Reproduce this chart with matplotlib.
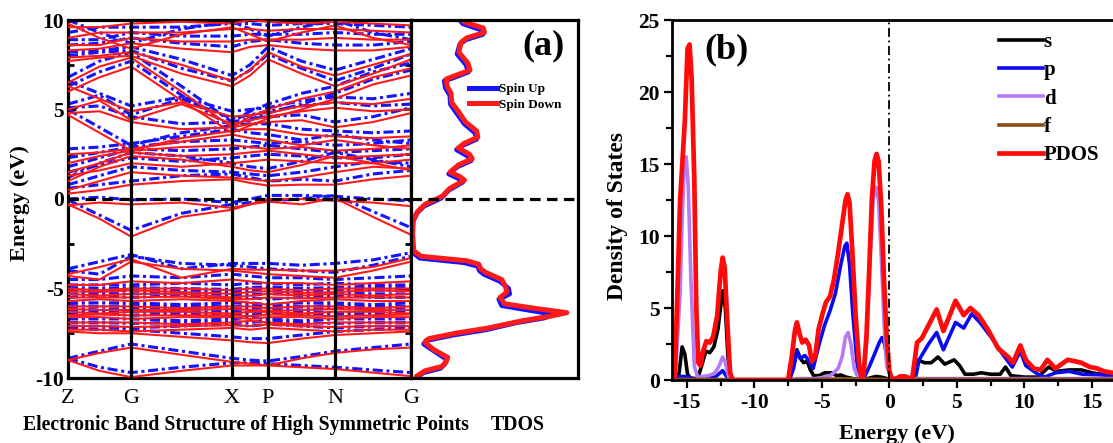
import numpy as np
import matplotlib
matplotlib.use("Agg")
import matplotlib.pyplot as plt
from matplotlib.ticker import MultipleLocator

plt.rcParams['font.family'] = ['Liberation Serif', 'DejaVu Serif']
plt.rcParams['font.weight'] = 'bold'
plt.rcParams['axes.unicode_minus'] = False

# ---------------- data: band structure ----------------
k_labels = ['Z', 'G', 'X', 'P', 'N', 'G']
k_nodes = [0.0, 1.0, 2.603, 3.175, 4.238, 5.444]

# values at Z, mid, G, mid, X, mid, P, mid, N, mid, G
bands_down = [
    [-0.3, -1.1, -2.1, -1.0, -0.6, -0.3, -0.15, -0.3, 0.05, -1.0, -2.0],
    [-0.35, -0.2, -0.3, -0.2, -0.5, -0.3, 0.0, 0.0, -0.1, -0.2, -0.4],
    [0.3, 0.5, 0.8, 1.0, 1.1, 0.9, 0.75, 0.8, 0.8, 1.1, 1.3],
    [0.5, 1.0, 1.5, 1.3, 1.2, 1.1, 1.0, 1.2, 1.5, 1.8, 1.7],
    [1.0, 1.8, 2.4, 2.2, 1.8, 1.6, 1.5, 1.9, 2.4, 2.0, 1.6],
    [1.3, 1.6, 2.0, 1.8, 2.0, 2.1, 2.2, 2.1, 2.0, 2.0, 2.2],
    [1.5, 2.0, 2.6, 2.4, 2.5, 2.6, 2.7, 2.5, 2.3, 2.4, 2.5],
    [2.0, 2.4, 2.7, 2.9, 3.0, 2.9, 2.8, 2.9, 2.7, 2.8, 3.0],
    [2.5, 2.6, 2.8, 3.2, 3.6, 3.4, 3.3, 3.0, 3.3, 3.0, 2.8],
    [4.7, 3.7, 2.7, 3.4, 3.8, 3.9, 3.9, 3.6, 3.5, 3.4, 3.5],
    [4.8, 4.9, 4.3, 3.9, 4.0, 4.2, 4.3, 4.4, 4.0, 4.3, 4.8],
    [5.0, 5.5, 4.4, 5.3, 4.2, 4.4, 4.6, 4.9, 5.1, 4.9, 5.0],
    [6.3, 5.6, 4.9, 5.4, 4.6, 4.7, 4.8, 5.2, 5.4, 5.3, 5.6],
    [6.0, 6.8, 7.4, 5.5, 3.7, 4.1, 4.5, 5.0, 5.6, 6.4, 6.9],
    [6.5, 7.4, 7.9, 6.0, 4.0, 4.6, 5.0, 5.6, 6.0, 6.8, 7.3],
    [7.7, 7.9, 8.0, 7.0, 6.3, 6.9, 7.8, 7.0, 6.3, 7.0, 7.8],
    [7.9, 8.0, 8.2, 7.5, 6.6, 7.2, 8.2, 7.4, 6.9, 7.5, 8.1],
    [8.3, 8.4, 8.7, 8.4, 8.2, 8.5, 8.6, 8.4, 8.3, 8.3, 8.5],
    [8.6, 8.6, 9.0, 8.8, 8.8, 8.9, 8.9, 8.9, 9.0, 8.9, 8.9],
    [9.8, 9.0, 8.4, 9.2, 9.6, 9.2, 8.8, 9.3, 9.7, 9.0, 8.6],
    [9.0, 9.3, 9.3, 9.3, 9.5, 9.5, 9.4, 9.5, 9.5, 9.4, 9.3],
    [9.6, 9.6, 9.8, 9.9, 9.8, 10.0, 9.9, 9.8, 9.9, 9.8, 9.7],
    [-4.2, -3.8, -3.35, -4.4, -3.9, -3.95, -3.95, -4.0, -4.0, -3.8, -3.3],
    [-4.3, -4.5, -3.5, -3.9, -4.0, -4.1, -4.2, -4.3, -4.4, -4.0, -3.5],
    [-4.8, -4.8, -4.6, -4.7, -4.5, -4.6, -4.7, -4.7, -4.8, -4.7, -4.6],
    [-5.0, -5.1, -5.0, -5.0, -5.1, -5.0, -5.0, -5.1, -5.0, -5.0, -5.0],
    [-5.15, -5.2, -5.1, -5.2, -5.3, -5.2, -5.15, -5.25, -5.2, -5.1, -5.15],
    [-5.3, -5.4, -5.3, -5.3, -5.5, -5.4, -5.3, -5.4, -5.3, -5.4, -5.3],
    [-5.5, -5.5, -5.5, -5.45, -5.6, -5.6, -5.5, -5.55, -5.5, -5.5, -5.5],
    [-5.7, -5.6, -5.7, -5.6, -5.7, -5.8, -5.9, -5.7, -5.6, -5.7, -5.7],
    [-6.0, -6.0, -6.0, -6.1, -6.0, -6.0, -6.1, -6.0, -6.0, -6.1, -6.0],
    [-6.15, -6.2, -6.2, -6.2, -6.15, -6.2, -6.25, -6.2, -6.15, -6.2, -6.2],
    [-6.3, -6.4, -6.3, -6.3, -6.4, -6.3, -6.3, -6.4, -6.3, -6.3, -6.4],
    [-6.5, -6.45, -6.5, -6.5, -6.5, -6.55, -6.45, -6.5, -6.55, -6.5, -6.45],
    [-6.6, -6.6, -6.7, -6.6, -6.6, -6.7, -6.6, -6.6, -6.7, -6.6, -6.6],
    [-6.9, -6.9, -6.9, -7.0, -6.9, -6.8, -6.9, -7.0, -6.9, -6.9, -6.9],
    [-7.1, -7.1, -7.15, -7.1, -7.05, -7.1, -7.0, -7.1, -7.15, -7.1, -7.1],
    [-7.3, -7.3, -7.4, -7.3, -7.2, -7.3, -7.2, -7.3, -7.4, -7.3, -7.3],
    [-7.4, -7.5, -7.5, -7.7, -7.9, -8.0, -8.05, -7.8, -7.6, -7.5, -7.4],
    [-9.0, -8.6, -8.3, -8.7, -9.1, -9.2, -9.3, -8.9, -8.6, -8.4, -8.3],
    [-9.0, -9.6, -9.95, -9.6, -9.3, -9.3, -9.3, -9.4, -9.5, -9.7, -9.9],
]

bands_up = [
    [-0.05, -0.9, -1.75, -0.8, -0.3, -0.2, -0.1, 0.0, 0.2, -0.7, -1.6],
    [0.0, 0.1, -0.05, 0.0, -0.2, 0.0, 0.2, 0.2, 0.15, 0.0, -0.1],
    [0.6, 0.8, 1.0, 1.3, 1.4, 1.2, 1.0, 1.1, 1.0, 1.4, 1.6],
    [0.8, 1.3, 1.8, 1.6, 1.5, 1.4, 1.3, 1.5, 1.8, 2.1, 2.0],
    [1.2, 2.0, 2.6, 2.4, 2.0, 1.8, 1.7, 2.1, 2.6, 2.2, 1.8],
    [1.5, 1.9, 2.3, 2.1, 2.3, 2.4, 2.5, 2.4, 2.3, 2.3, 2.5],
    [1.8, 2.3, 2.8, 2.7, 2.8, 2.9, 3.0, 2.8, 2.6, 2.7, 2.8],
    [2.3, 2.6, 2.9, 3.2, 3.3, 3.2, 3.1, 3.2, 3.0, 3.1, 3.3],
    [2.8, 2.9, 3.1, 3.5, 3.9, 3.7, 3.6, 3.3, 3.6, 3.3, 3.1],
    [5.0, 4.0, 3.0, 3.7, 4.1, 4.2, 4.2, 3.9, 3.8, 3.7, 3.8],
    [5.1, 5.2, 4.6, 4.2, 4.3, 4.5, 4.6, 4.7, 4.3, 4.6, 5.1],
    [5.3, 5.8, 4.7, 5.6, 4.5, 4.7, 4.9, 5.2, 5.4, 5.2, 5.3],
    [6.6, 5.9, 5.2, 5.7, 4.9, 5.0, 5.1, 5.5, 5.7, 5.6, 5.9],
    [6.3, 7.1, 7.7, 5.8, 4.0, 4.4, 4.8, 5.3, 5.9, 6.7, 7.2],
    [6.8, 7.7, 8.2, 6.3, 4.3, 4.9, 5.3, 5.9, 6.3, 7.1, 7.6],
    [8.0, 8.2, 8.3, 7.3, 6.6, 7.2, 8.1, 7.3, 6.6, 7.3, 8.1],
    [8.2, 8.3, 8.5, 7.8, 6.9, 7.5, 8.5, 7.7, 7.2, 7.8, 8.4],
    [8.6, 8.7, 9.0, 8.7, 8.5, 8.8, 8.9, 8.7, 8.6, 8.6, 8.8],
    [8.9, 8.9, 9.3, 9.1, 9.1, 9.2, 9.2, 9.2, 9.3, 9.2, 9.2],
    [10.0, 9.3, 8.7, 9.5, 9.9, 9.5, 9.1, 9.6, 10.0, 9.3, 8.9],
    [9.3, 9.6, 9.6, 9.6, 9.8, 9.8, 9.7, 9.8, 9.8, 9.7, 9.6],
    [-3.9, -3.5, -3.1, -3.9, -3.6, -3.6, -3.6, -3.7, -3.6, -3.4, -3.0],
    [-4.0, -4.2, -3.2, -3.6, -3.7, -3.8, -3.9, -4.0, -4.1, -3.7, -3.2],
    [-4.5, -4.5, -4.3, -4.4, -4.2, -4.3, -4.4, -4.4, -4.5, -4.4, -4.3],
    [-4.8, -4.8, -4.8, -4.7, -4.8, -4.7, -4.7, -4.8, -4.7, -4.8, -4.8],
    [-4.95, -5.0, -4.95, -5.0, -5.05, -4.95, -4.9, -5.0, -4.95, -4.9, -4.95],
    [-5.1, -5.2, -5.1, -5.1, -5.2, -5.1, -5.0, -5.2, -5.1, -5.1, -5.1],
    [-5.3, -5.3, -5.3, -5.25, -5.35, -5.35, -5.3, -5.3, -5.25, -5.3, -5.3],
    [-5.5, -5.4, -5.5, -5.4, -5.5, -5.5, -5.6, -5.5, -5.4, -5.5, -5.5],
    [-5.8, -5.8, -5.8, -5.9, -5.8, -5.8, -5.9, -5.8, -5.8, -5.9, -5.8],
    [-5.95, -6.0, -5.95, -6.0, -6.0, -5.95, -6.0, -6.0, -5.95, -6.0, -6.0],
    [-6.1, -6.2, -6.1, -6.1, -6.2, -6.1, -6.1, -6.2, -6.1, -6.1, -6.2],
    [-6.3, -6.25, -6.3, -6.3, -6.3, -6.35, -6.25, -6.3, -6.35, -6.3, -6.25],
    [-6.4, -6.4, -6.5, -6.4, -6.4, -6.5, -6.4, -6.4, -6.5, -6.4, -6.4],
    [-6.7, -6.7, -6.7, -6.8, -6.7, -6.6, -6.7, -6.8, -6.7, -6.7, -6.7],
    [-6.9, -6.9, -6.95, -6.9, -6.85, -6.9, -6.8, -6.9, -6.95, -6.9, -6.9],
    [-7.1, -7.1, -7.2, -7.1, -7.0, -7.1, -7.0, -7.1, -7.2, -7.1, -7.1],
    [-7.2, -7.3, -7.3, -7.5, -7.7, -7.8, -7.8, -7.6, -7.4, -7.3, -7.2],
    [-8.9, -8.5, -8.1, -8.5, -8.9, -9.0, -9.05, -8.8, -8.5, -8.3, -8.1],
    [-8.9, -9.4, -9.7, -9.4, -9.15, -9.15, -9.2, -9.3, -9.4, -9.55, -9.7],
]

# ---------------- data: TDOS ----------------
tdos_dn_E = [10.3, 9.9, 9.55, 9.3, 9.0, 8.75, 8.2, 7.6, 7.2, 6.9, 6.7, 6.3, 5.9, 5.4,
             4.9, 4.3, 3.8, 3.45, 3.1, 2.85, 2.5, 2.25, 1.9, 1.5, 1.25, 1.05, 0.6,
             0.15, -0.3, -0.7, -1.2, -2.0, -2.9, -3.2, -3.45, -3.65, -3.9, -4.1,
             -4.5, -4.9, -5.2, -5.5, -5.85, -6.1, -6.35, -6.55, -6.8, -7.2, -7.5,
             -7.8, -8.0, -8.4, -8.85, -9.1, -9.35, -9.6, -9.9, -10.2]
tdos_dn = [8.5, 9.5, 13.0, 13.2, 10.0, 9.0, 8.6, 10.2, 10.6, 8.0, 6.3, 6.5, 7.2, 7.3,
           8.5, 9.8, 11.8, 12.0, 9.5, 8.5, 10.5, 11.0, 8.5, 7.0, 8.8, 9.6, 7.0,
           5.6, 2.5, 1.2, 0.4, 0.3, 0.5, 1.8, 10.0, 12.2, 12.5, 13.4,
           16.3, 17.0, 17.2, 16.0, 16.8, 22.0, 28.0, 25.0, 20.0, 14.0, 8.0,
           3.2, 2.5, 4.0, 6.6, 6.3, 5.6, 2.5, 1.0, 0.8]
tdos_up_E = [10.2, 9.8, 9.45, 9.2, 8.9, 8.65, 8.1, 7.5, 7.1, 6.8, 6.6, 6.2, 5.8, 5.3,
             4.8, 4.2, 3.7, 3.35, 3.0, 2.75, 2.4, 2.15, 1.8, 1.4, 1.15, 0.95, 0.5,
             0.05, -0.4, -0.8, -1.3, -2.1, -3.0, -3.3, -3.55, -3.75, -4.0, -4.2,
             -4.6, -5.0, -5.3, -5.6, -5.95, -6.2, -6.45, -6.65, -6.9, -7.3, -7.6,
             -7.9, -8.1, -8.5, -8.95, -9.2, -9.45, -9.7, -10.0, -10.3]
tdos_up = [8.3, 9.3, 12.6, 12.9, 9.8, 8.8, 8.3, 9.9, 10.3, 7.8, 6.0, 6.2, 7.0, 7.1,
           8.2, 9.6, 11.5, 11.8, 9.3, 8.2, 10.2, 10.8, 8.3, 6.8, 8.5, 9.3, 6.8,
           5.4, 2.3, 1.0, 0.3, 0.2, 0.4, 1.6, 9.5, 12.0, 12.3, 13.1,
           16.0, 17.5, 17.7, 15.8, 16.3, 21.0, 25.8, 23.8, 19.0, 13.5, 7.5,
           2.8, 2.3, 4.2, 6.4, 6.1, 5.3, 2.2, 0.9, 0.7]

# ---------------- data: PDOS ----------------
pdos_E = [-16.1, -15.9, -15.7, -15.5, -15.35, -15.15, -14.95, -14.8, -14.65, -14.45,
          -14.3, -14.15, -14.0, -13.8, -13.55, -13.3, -13.05, -12.75, -12.5, -12.35,
          -12.2, -12.0, -11.8, -11.6, -7.5, -7.25, -7.0, -6.85, -6.65, -6.45, -6.2,
          -5.95, -5.75, -5.5, -5.25, -4.95, -4.7, -4.4, -4.1, -3.8, -3.5, -3.25,
          -3.1, -2.95, -2.75, -2.5, -2.25, -2.05, -1.9, -1.7, -1.5, -1.3, -1.1,
          -0.95, -0.8, -0.6, -0.4, -0.2, 0.0, 0.2, 0.5, 0.8, 1.2, 1.5, 1.7, 2.05,
          2.4, 2.9, 3.5, 4.0, 4.9, 5.5, 6.0, 6.6, 7.3, 8.05, 8.8, 9.15, 9.7, 10.1,
          10.7, 11.2, 11.7, 12.3, 13.2, 13.75, 14.2, 14.85, 15.4, 15.9, 16.5, 17.5, 18.6]
pdos_D = [0.0, 0.3, 6.0, 12.5, 14.8, 18.0, 23.0, 23.3, 21.0, 14.0,
          5.0, 1.2, 1.0, 2.0, 2.7, 2.6, 3.0, 4.5, 7.5, 8.5,
          7.8, 4.0, 0.5, 0.0, 0.0, 1.5, 3.4, 4.0, 3.2, 2.6, 2.8,
          2.4, 1.3, 1.6, 3.5, 4.6, 5.4, 5.8, 7.0, 8.8, 10.8, 12.5,
          12.9, 12.3, 9.0, 4.5, 1.2, 0.1, 0.5, 3.0, 7.5, 12.5, 15.2,
          15.7, 15.2, 12.0, 7.0, 3.0, 0.6, 0.05, 0.1, 0.25, 0.25, 0.1, 0.15, 2.6,
          2.9, 3.8, 4.9, 3.4, 5.5, 4.5, 5.0, 4.5, 3.5, 2.2, 1.6, 1.2, 2.4, 1.4,
          0.8, 0.7, 1.4, 0.8, 1.4, 1.3, 1.2, 0.9, 0.8, 0.6, 0.5, 0.4, 0.35]

s_E = [-16.1, -15.6, -15.35, -15.15, -14.95, -14.7, -14.2, -13.9, -13.6, -13.3, -13.0,
       -12.7, -12.35, -12.15, -11.95, -11.7, -7.4, -7.1, -6.85, -6.6, -6.35, -6.1,
       -5.85, -5.6, -5.2, -4.8, -4.3, -3.9, -3.6, -3.2, -2.7, -2.2, -1.6, -1.0, -0.6,
       -0.2, 0.2, 1.8, 2.1, 2.6, 3.1, 3.6, 4.1, 4.8, 5.2, 5.6, 6.2, 6.8, 7.5, 8.2,
       8.6, 9.0, 10.0, 11.0, 11.8, 12.4, 13.3, 14.2, 15.0, 16.0, 18.6]
s_D = [0.0, 0.3, 2.3, 1.8, 0.4, 0.1, 0.1, 1.0, 2.0, 1.9, 2.3,
       3.5, 6.2, 5.0, 1.5, 0.0, 0.0, 1.0, 2.1, 1.5, 1.2, 1.3,
       0.7, 0.3, 0.3, 0.5, 0.5, 0.3, 0.35, 0.2, 0.1, 0.0, 0.1, 0.25, 0.2,
       0.1, 0.0, 0.0, 1.4, 1.2, 1.2, 1.6, 1.1, 1.4, 1.0, 0.4, 0.4, 0.5, 0.4, 0.4,
       0.9, 0.3, 0.2, 0.2, 0.9, 0.6, 0.7, 0.7, 0.5, 0.35, 0.2]

p_E = [-16.1, -15.8, -15.3, -14.9, -14.5, -14.2, -13.6, -12.9, -12.35, -12.1, -11.8,
       -7.4, -7.1, -6.85, -6.6, -6.25, -5.95, -5.65, -5.2, -4.8, -4.4, -4.0, -3.6,
       -3.3, -3.15, -2.95, -2.7, -2.4, -2.15, -1.9, -1.5, -1.1, -0.75, -0.55, -0.35,
       -0.1, 0.1, 0.3, 1.9, 2.2, 2.9, 3.5, 4.0, 4.9, 5.5, 6.1, 6.7, 7.6, 8.3, 9.1,
       9.7, 10.1, 11.0, 11.5, 12.3, 13.3, 14.3, 16.0, 18.6]
p_D = [0.0, 0.2, 0.25, 0.2, 0.1, 0.0, 0.1, 0.2, 0.65, 0.3, 0.0,
       0.0, 0.8, 2.0, 1.5, 1.7, 1.3, 0.8, 2.5, 3.8, 4.8, 6.0, 8.0,
       9.3, 9.5, 8.0, 4.5, 1.2, 0.1, 0.1, 0.9, 1.8, 2.6, 2.95, 2.5,
       1.0, 0.1, 0.0, 0.0, 1.4, 2.5, 3.3, 2.1, 4.0, 3.6, 4.6, 4.0, 2.9, 1.9, 0.9,
       2.0, 1.0, 0.4, 0.2, 0.5, 0.6, 0.4, 0.35, 0.25]

d_E = [-16.1, -15.8, -15.5, -15.35, -15.2, -15.05, -14.9, -14.7, -14.45, -14.2, -13.8,
       -13.4, -12.9, -12.6, -12.35, -12.15, -11.9, -11.7, -7.4, -6.8, -5.5, -4.8,
       -4.3, -3.8, -3.5, -3.25, -3.05, -2.85, -2.6, -2.3, -1.95, -1.7, -1.45, -1.2,
       -1.0, -0.8, -0.6, -0.4, -0.2, 0.1, 18.6]
d_D = [0.0, 1.0, 6.0, 11.0, 14.8, 15.5, 13.5, 7.0, 1.0, 0.2, 0.25,
       0.3, 0.5, 1.0, 1.6, 1.2, 0.2, 0.0, 0.0, 0.1, 0.1, 0.2,
       0.35, 0.8, 1.6, 3.0, 3.3, 2.5, 0.8, 0.1, 0.1, 2.5, 8.0, 12.5,
       13.4, 12.5, 8.5, 4.0, 1.0, 0.1, 0.1]

f_E = [-16.1, -12.0, -7.0, -3.0, 0.0, 5.0, 10.0, 18.6]
f_D = [0.05, 0.03, 0.03, 0.08, 0.04, 0.05, 0.05, 0.05]

# ---------------- figure ----------------
W, H = 1113, 443
fig = plt.figure(figsize=(W / 100, H / 100), dpi=100)


def ax_at(x0, y0, x1, y1):
    return fig.add_axes([x0 / W, 1 - y1 / H, (x1 - x0) / W, (y1 - y0) / H])


def fxy(x, y):
    return x / W, 1 - y / H


RED = '#FF1A1A'
BLUE = '#1414FF'

# ---- band structure ----
ax_b = ax_at(68, 20, 411, 378)
kn = np.array(k_nodes)
kx = np.empty(2 * len(kn) - 1)
kx[0::2] = kn
kx[1::2] = 0.5 * (kn[:-1] + kn[1:])
for b in bands_up:
    ax_b.plot(kx, b, color=BLUE, lw=2.2, ls=(0, (3.3, 1.2, 1.0, 1.2)), zorder=2)
for b in bands_down:
    ax_b.plot(kx, b, color=RED, lw=1.5, zorder=3)
for k in k_nodes[1:-1]:
    ax_b.axvline(k, color='k', lw=2.3, zorder=4)
ax_b.axhline(0, color='k', lw=2.3, ls=(0, (3.3, 2.0)), zorder=5)
ax_b.set_xlim(k_nodes[0], k_nodes[-1])
ax_b.set_ylim(-10, 10)
ax_b.set_yticks([-10, -5, 0, 5, 10])
ax_b.set_yticklabels(['-10', '-5', '0', '5', '10'])
ax_b.yaxis.set_minor_locator(MultipleLocator(2.5))
ax_b.tick_params(axis='y', which='both', direction='in', width=2, labelsize=15.5,
                 right=True, pad=3)
ax_b.tick_params(axis='y', which='major', length=6)
ax_b.tick_params(axis='y', which='minor', length=4)
ax_b.set_xticks(k_nodes)
ax_b.set_xticklabels(k_labels, fontweight='normal', fontsize=16)
ax_b.tick_params(axis='x', length=0, pad=8)
for sp in ax_b.spines.values():
    sp.set_linewidth(2.3)

# ---- TDOS ----
ax_t = ax_at(411, 20, 578, 378)
lu, = ax_t.plot(tdos_up, tdos_up_E, color=BLUE, lw=3.6, label='Spin Up')
ld, = ax_t.plot(tdos_dn, tdos_dn_E, color=RED, lw=3.6, label='Spin Down')
ax_t.axhline(0, color='k', lw=2.3, ls=(0, (3.3, 2.0)), zorder=5)
ax_t.set_xlim(0, 30)
ax_t.set_ylim(-10, 10)
ax_t.set_xticks([])
ax_t.set_yticks([])
for sp in ax_t.spines.values():
    sp.set_linewidth(2.3)
ax_t.legend(handles=[lu, ld], loc='upper left', bbox_to_anchor=fxy(469, 83),
            bbox_transform=fig.transFigure, frameon=False, fontsize=9.5,
            handlelength=2.1, handletextpad=0.15, labelspacing=0.25,
            borderpad=0, borderaxespad=0)

fig.text(*fxy(543, 46), '(a)', fontsize=26, ha='center', va='center')
fig.text(*fxy(20, 203), 'Energy (eV)', fontsize=16, rotation=90,
         ha='center', va='center')
fig.text(*fxy(246, 425), 'Electronic Band Structure of High Symmetric Points',
         fontsize=14.2, ha='center', va='center')
fig.text(*fxy(518, 425), 'TDOS', fontsize=14.2, ha='center', va='center')

# ---- PDOS ----
ax_p = ax_at(672, 20, 1140, 380)
ax_p.plot(s_E, s_D, color='black', lw=2.6, label='s')
ax_p.plot(p_E, p_D, color='#0A0AF0', lw=2.6, label='p')
ax_p.plot(d_E, d_D, color='#B57BF2', lw=2.6, label='d')
ax_p.plot(f_E, f_D, color='#8B4A14', lw=2.6, label='f')
ax_p.plot(pdos_E, pdos_D, color='#FF0A0A', lw=3.4, label='PDOS')
ax_p.axvline(0, color='k', lw=1.3, ls=(0, (5, 2, 1, 2)))
ax_p.set_xlim(-16.1, 18.56)
ax_p.set_ylim(0, 25)
ax_p.set_xticks([-15, -10, -5, 0, 5, 10, 15])
ax_p.set_xticklabels(['-15', '-10', '-5', '0', '5', '10', '15'])
ax_p.set_yticks([0, 5, 10, 15, 20, 25])
ax_p.xaxis.set_minor_locator(MultipleLocator(2.5))
ax_p.yaxis.set_minor_locator(MultipleLocator(2.5))
ax_p.tick_params(which='both', direction='out', width=1.6, labelsize=15.5, pad=3)
ax_p.tick_params(which='major', length=6)
ax_p.tick_params(which='minor', length=4)
for sp in ax_p.spines.values():
    sp.set_linewidth(2.0)
ax_p.legend(loc='upper left', bbox_to_anchor=fxy(999, 32),
            bbox_transform=fig.transFigure, frameon=False, fontsize=15,
            handlelength=2.1, handletextpad=0.05, labelspacing=0.4,
            borderpad=0, borderaxespad=0)
fig.text(*fxy(727, 50), '(b)', fontsize=26, ha='center', va='center')
fig.text(*fxy(617, 216), 'Density of States', fontsize=17, rotation=90,
         ha='center', va='center')
fig.text(*fxy(897, 434), 'Energy (eV)', fontsize=16, ha='center', va='center')

fig.savefig('out.png', dpi=100)
